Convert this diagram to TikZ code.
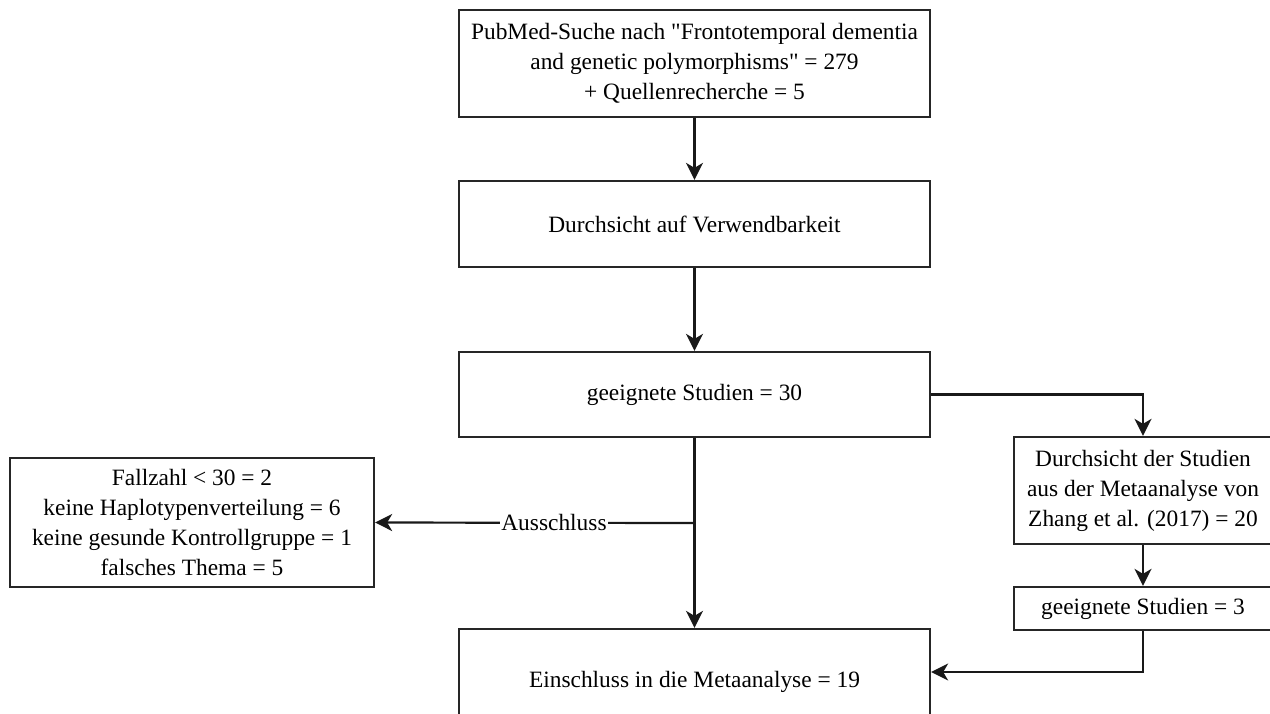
\documentclass[tikz,border=0pt]{standalone}
\usepackage{fontspec}
\setmainfont{Liberation Serif}[Ligatures=TeXOff]
\usetikzlibrary{arrows.meta}
\begin{document}
\begin{tikzpicture}[x=1pt,y=-1pt,
  box/.style={draw=black!85, line width=2.3pt, fill=white, rectangle, inner sep=0pt, align=center,
    font=\fontsize{23.4}{30}\selectfont, text=black},
  conn/.style={line width=2.2pt, draw=black!90},
  arr/.style={conn, -{Stealth[length=17pt,width=17pt,inset=5pt]}},
  lbl/.style={fill=white, inner sep=1pt, font=\fontsize{23.4}{30}\selectfont, text=black}]
\useasboundingbox (0,0) rectangle (1270,713);
\clip (0,0) rectangle (1270,713);
\fill[white] (0,0) rectangle (1270,713);

\node[box, minimum width=471pt, minimum height=107pt] (top) at (694.5,63.5)
  {PubMed-Suche nach "Frontotemporal dementia\\and genetic polymorphisms" = 279\\+ Quellenrecherche = 5};
\node[box, minimum width=471pt, minimum height=86pt] (durch) at (694.5,224)
  {Durchsicht auf Verwendbarkeit};
\node[box, minimum width=471pt, minimum height=85pt] (g30) at (694.5,394.5)
  {geeignete Studien = 30};
\node[box, minimum width=471pt, minimum height=106pt] (ein) at (694.5,682)
  {Einschluss in die Metaanalyse = 19};
\node[box, minimum width=364pt, minimum height=129pt] (aus) at (192,522.5)
  {Fallzahl < 30 = 2\\keine Haplotypenverteilung = 6\\keine gesunde Kontrollgruppe = 1\\falsches Thema = 5};
\node[box, minimum width=258pt, minimum height=107pt] (zhang) at (1143,490.5)
  {Durchsicht der Studien\\aus der Metaanalyse von\\Zhang et al. (2017) = 20};
\node[box, minimum width=258pt, minimum height=43pt] (g3) at (1143,608.5)
  {geeignete Studien = 3};

\coordinate (branch) at (694.5,523);

\draw[arr] (top.south) -- (durch.north);
\draw[arr] (durch.south) -- (g30.north);
\draw[arr] (g30.south) -- (ein.north);
\draw[arr] (branch) -- node[lbl, pos=0.44] {Ausschluss} (aus.east);
\draw[arr] (g30.east) -| (zhang.north);
\draw[arr] (zhang.south) -- (g3.north);
\draw[arr] (g3.south) |- ([yshift=10pt]ein.east);
\end{tikzpicture}
\end{document}
